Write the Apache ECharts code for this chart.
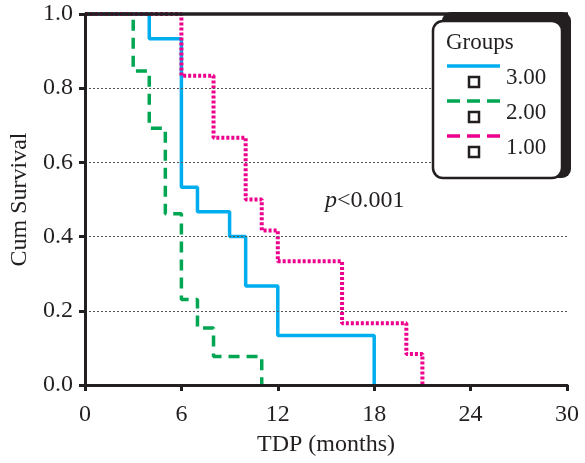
<!DOCTYPE html>
<html>
<head>
<meta charset="utf-8">
<script src="https://cdn.jsdelivr.net/npm/echarts@6/dist/echarts.min.js"></script>
<style>
  html, body { margin: 0; padding: 0; background: #fff; }
  #chart { width: 585px; height: 463px; }
</style>
</head>
<body>
<div id="chart"></div>
<script>
// Kaplan–Meier survival steps: [time in months, cumulative survival]
const group3 = [[0, 1], [4, 14 / 15], [6, 8 / 15], [7, 7 / 15], [9, 6 / 15], [10, 4 / 15], [12, 2 / 15], [18, 0]];
const group2 = [[0, 1], [3, 11 / 13], [4, 9 / 13], [5, 6 / 13], [6, 3 / 13], [7, 2 / 13], [8, 1 / 13], [11, 0]];
const group1 = [[0, 1], [6, 10 / 12], [8, 8 / 12], [10, 6 / 12], [11, 5 / 12], [12, 4 / 12], [16, 2 / 12], [20, 1 / 12], [21, 0]];

const groupNames = ['3.00', '2.00', '1.00'];
const xTicks = [0, 6, 12, 18, 24, 30];

const BLUE = '#00AEEF', GREEN = '#00A651', PINK = '#EC008C', INK = '#231F20';
const FONT = '"Liberation Serif", "DejaVu Serif", serif';

const chart = echarts.init(document.getElementById('chart'), null, { renderer: 'canvas' });

const frameAxis = { show: true, lineStyle: { color: INK, width: 3 } };

// legend entry: line sample, square marker below it, label to the right
function legendEntry(y, color, dash, name) {
  const line = { type: 'line', z: 110, shape: { x1: 447, y1: y, x2: 500, y2: y },
    style: { stroke: color, lineWidth: 3.5 } };
  if (dash) line.style.lineDash = dash;
  return [
    line,
    { type: 'rect', z: 110, shape: { x: 469, y: y + 11, width: 10, height: 10 },
      style: { fill: '#fff', stroke: INK, lineWidth: 2.5 } },
    { type: 'text', z: 110, x: 506, y: y + 12,
      style: { text: name, font: '23px ' + FONT, fill: INK, verticalAlign: 'middle' } }
  ];
}

chart.setOption({
  animation: false,
  grid: { left: 85, right: 18, top: 14, bottom: 78 },
  xAxis: [{
    type: 'value', min: 0, max: 30, interval: 6, z: 10,
    axisLine: frameAxis,
    axisTick: { show: true, length: 6, lineStyle: { color: INK, width: 3 } },
    axisLabel: { color: INK, fontFamily: FONT, fontSize: 24, margin: 18,
      customValues: xTicks },
    splitLine: { show: false },
    name: 'TDP (months)', nameLocation: 'middle', nameGap: 48,
    nameTextStyle: { color: INK, fontFamily: FONT, fontSize: 24 }
  }, {
    type: 'value', position: 'top', min: 0, max: 30, z: 10,
    axisLine: frameAxis, axisTick: { show: false }, axisLabel: { show: false }, splitLine: { show: false }
  }],
  yAxis: [{
    type: 'value', min: 0, max: 1, interval: 0.2, z: 10,
    axisLine: frameAxis,
    axisTick: { show: true, length: 6, lineStyle: { color: INK, width: 3 } },
    axisLabel: { color: INK, fontFamily: FONT, fontSize: 24, margin: 12,
      formatter: v => v.toFixed(1) },
    splitLine: { show: true, lineStyle: { color: '#555', width: 1, type: [2, 2] } },
    name: 'Cum Survival', nameLocation: 'middle', nameGap: 50, nameRotate: 90,
    nameTextStyle: { color: INK, fontFamily: FONT, fontSize: 24 }
  }, {
    type: 'value', position: 'right', min: 0, max: 1, z: 10,
    axisLine: frameAxis, axisTick: { show: false }, axisLabel: { show: false }, splitLine: { show: false }
  }],
  series: [
    { name: groupNames[0], type: 'line', step: 'end', data: group3, symbol: 'none', z: 2,
      lineStyle: { color: BLUE, width: 3.5 } },
    { name: groupNames[1], type: 'line', step: 'end', data: group2, symbol: 'none', z: 2,
      lineStyle: { color: GREEN, width: 3.5, type: [11, 7] } },
    { name: groupNames[2], type: 'line', step: 'end', data: group1, symbol: 'none', z: 2,
      lineStyle: { color: PINK, width: 4, type: [3, 2] } }
  ],
  graphic: [
    // plot frame top edge, kept above the curves
    { type: 'line', z: 90, shape: { x1: 85, y1: 14, x2: 568, y2: 14 },
      style: { stroke: INK, lineWidth: 3.5 } },
    // legend panel with its heavy top/right edge
    { type: 'rect', z: 100, shape: { x: 442, y: 12, width: 129, height: 166, r: 9 },
      style: { fill: INK } },
    { type: 'rect', z: 101, shape: { x: 433, y: 21, width: 129, height: 157, r: 10 },
      style: { fill: '#fff', stroke: INK, lineWidth: 2.5 } },
    { type: 'text', z: 110, x: 446, y: 43,
      style: { text: 'Groups', font: '23px ' + FONT, fill: INK, verticalAlign: 'middle' } },
    ...legendEntry(66, BLUE, null, groupNames[0]),
    ...legendEntry(101, GREEN, [13, 7], groupNames[1]),
    ...legendEntry(136, PINK, [13, 7], groupNames[2]),
    // log-rank result
    { type: 'text', z: 50, x: 325, y: 201, style: { rich: {
        it: { fontFamily: FONT, fontSize: 24, fontStyle: 'italic', fill: INK },
        rg: { fontFamily: FONT, fontSize: 24, fill: INK } },
      text: '{it|p}{rg|<0.001}', verticalAlign: 'middle' } }
  ]
});
</script>
</body>
</html>
